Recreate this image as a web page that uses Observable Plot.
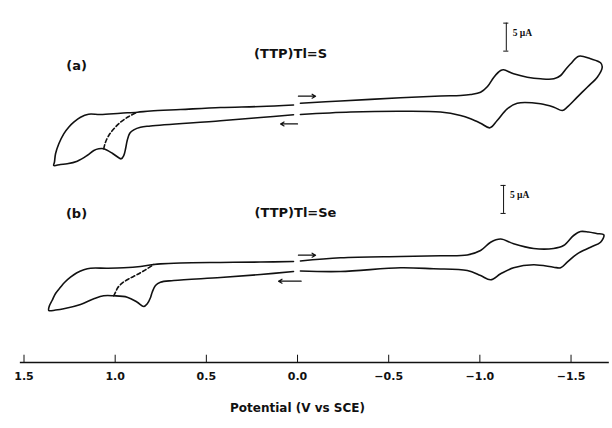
<!DOCTYPE html>
<html><head><meta charset="utf-8">
<script src="https://cdn.jsdelivr.net/npm/d3@7"></script>
<script src="https://cdn.jsdelivr.net/npm/@observablehq/plot@0.6"></script>
<style>body{margin:0;background:#fff}svg{display:block}</style>
</head><body><div id="chart"></div>
<script>
// Potential (V vs SCE) and current (µA, relative to each trace's own baseline)
const aLeftV = [0.022,0.203,0.422,0.642,0.806,0.878,0.971,1.081,1.146,1.190,1.227,1.255,1.282,1.309,1.327,1.333,1.337,1.300,1.263,1.208,1.154,1.117,1.090,1.063,1.016,0.980,0.967,0.953,0.943,0.934,0.920,0.898,0.861,0.806,0.422,0.203,0.022];
const aLeftI = [0.98,0.71,0.54,0.18,-0.09,-0.30,-0.48,-0.71,-0.66,-1.20,-2.09,-2.98,-4.16,-5.95,-7.73,-9.23,-9.82,-9.64,-9.52,-9.05,-8.04,-7.14,-6.84,-6.84,-7.63,-8.45,-8.63,-8.04,-6.84,-5.36,-4.05,-3.45,-2.98,-2.77,-1.84,-1.25,-0.77];
const aDashV = [1.063,1.053,1.035,1.007,0.971,0.925,0.879];
const aDashI = [-6.84,-5.66,-4.46,-3.27,-2.09,-1.07,-0.30];
const aRightV = [-0.016,-0.236,-0.565,-0.784,-0.894,-0.949,-1.004,-1.042,-1.077,-1.114,-1.130,-1.185,-1.260,-1.333,-1.406,-1.443,-1.470,-1.498,-1.543,-1.607,-1.662,-1.671,-1.644,-1.589,-1.534,-1.479,-1.452,-1.406,-1.333,-1.205,-1.150,-1.095,-1.055,-1.004,-0.949,-0.894,-0.784,-0.565,-0.291,-0.016];
const aRightI = [1.30,1.70,2.27,2.59,2.68,2.86,3.27,4.29,5.95,7.14,7.27,6.55,5.95,5.66,5.66,6.25,7.32,8.34,9.70,9.23,8.52,7.73,5.95,4.16,2.38,0.59,0.00,0.59,1.20,1.30,0.30,-1.79,-3.09,-2.27,-1.48,-0.89,-0.27,-0.13,-0.27,-0.71];

const bLeftV = [0.022,0.203,0.422,0.642,0.752,0.788,0.861,0.953,1.044,1.135,1.172,1.212,1.245,1.278,1.300,1.327,1.346,1.360,1.364,1.327,1.282,1.190,1.117,1.063,1.008,0.934,0.879,0.843,0.824,0.806,0.797,0.779,0.752,0.679,0.422,0.203,0.022];
const bLeftI = [0.71,0.62,0.55,0.45,0.30,0.18,-0.18,-0.41,-0.48,-0.48,-0.77,-1.34,-2.09,-3.04,-3.88,-5.00,-6.25,-7.14,-8.04,-7.95,-7.73,-6.96,-5.95,-5.41,-5.41,-5.66,-6.55,-7.32,-6.84,-5.71,-4.77,-3.57,-2.98,-2.68,-2.14,-1.61,-1.07];
const bDashV = [1.008,0.998,0.986,0.962,0.925,0.879,0.834,0.788];
const bDashI = [-5.41,-4.77,-3.98,-3.16,-2.38,-1.61,-0.77,0.18];
const bRightV = [-0.016,-0.236,-0.565,-0.784,-0.931,-1.004,-1.059,-1.114,-1.185,-1.295,-1.404,-1.459,-1.514,-1.552,-1.596,-1.640,-1.680,-1.662,-1.607,-1.534,-1.479,-1.443,-1.404,-1.295,-1.185,-1.114,-1.059,-1.004,-0.931,-0.746,-0.565,-0.236,-0.016];
const bRightI = [0.80,1.38,1.61,1.73,1.88,2.68,4.16,4.73,3.88,3.04,3.04,3.57,5.36,6.07,5.98,5.71,5.45,4.16,3.27,2.09,0.59,-0.41,-0.30,0.13,-0.41,-1.48,-2.55,-1.79,-0.89,-0.59,-0.41,-1.07,-0.98];

const tickValues = [1.5, 1.0, 0.5, 0.0, -0.5, -1.0, -1.5];
const panelLabels = ["(a)", "(b)"];
const compoundLabels = ["(TTP)Tl=S", "(TTP)Tl=Se"];
const scaleBarUA = 5;

// layout (vertical stacking of the two voltammograms, in µA units of the shared y scale)
const offA = 45.0, offB = 17.32;
const pts = (V, I, off) => V.map((v, k) => ({x: v, y: I[k] + off}));

const font = "'DejaVu Sans', sans-serif";
const ink = "#111";
const lineOpt = {x: "x", y: "y", stroke: ink, strokeWidth: 1.6, curve: "catmull-rom"};
const dashOpt = {...lineOpt, strokeDasharray: "4,2.5", strokeWidth: 1.6};

const arrows = [
  {x1: -0.005, x2: -0.099, y1: offA + 2.55, y2: offA + 2.55},
  {x1: 0.0, x2: 0.093, y1: offA - 2.4, y2: offA - 2.4},
  {x1: -0.005, x2: -0.099, y1: offB + 1.85, y2: offB + 1.85},
  {x1: -0.02, x2: 0.104, y1: offB - 2.8, y2: offB - 2.8}
];
const bars = [
  {x: -1.145, y1: offA + 10.6, y2: offA + 10.6 + scaleBarUA},
  {x: -1.13, y1: offB + 9.3, y2: offB + 9.3 + scaleBarUA}
];

const chart = Plot.plot({
  width: 612, height: 428,
  marginLeft: 23.5, marginRight: 5, marginTop: 0, marginBottom: 66,
  style: {fontFamily: font, background: "#fff", color: ink},
  x: {domain: [1.5, -1.7]},
  y: {domain: [0, 362 / 5.6], axis: null},
  marks: [
    Plot.ruleY([0], {x1: 1.52, x2: -1.71, stroke: ink, strokeWidth: 1.3}),
    Plot.ruleX(tickValues, {x: d => d, y1: 0, y2: 1.3, stroke: ink, strokeWidth: 1}),
    Plot.axisX({ticks: tickValues, tickSize: 0, tickPadding: 10, tickFormat: d3.format(".1f"),
      fontSize: 11, fontWeight: "bold", label: null}),
    Plot.text(["Potential (V vs SCE)"], {x: () => 0, y: () => -8.2, text: d => d, fontSize: 12, fontWeight: "bold"}),
    Plot.line(pts(aLeftV, aLeftI, offA), lineOpt),
    Plot.line(pts(aRightV, aRightI, offA), lineOpt),
    Plot.line(pts(aDashV, aDashI, offA), dashOpt),
    Plot.line(pts(bLeftV, bLeftI, offB), lineOpt),
    Plot.line(pts(bRightV, bRightI, offB), lineOpt),
    Plot.line(pts(bDashV, bDashI, offB), dashOpt),
    Plot.arrow(arrows, {x1: "x1", x2: "x2", y1: "y1", y2: "y2", stroke: ink, strokeWidth: 1.2, headLength: 5, bend: 0}),
    Plot.ruleX(bars, {x: "x", y1: "y1", y2: "y2", stroke: ink, strokeWidth: 1}),
    Plot.ruleY(bars.flatMap(b => [{x: b.x, y: b.y1}, {x: b.x, y: b.y2}]), {x1: d => d.x + 0.014, x2: d => d.x - 0.014, y: "y", stroke: ink, strokeWidth: 1}),
    Plot.text(bars.map(b => b.x), {x: d => d - 0.035, y: (d, i) => bars[i].y1 + 3.3, text: () => scaleBarUA + " \u00b5A",
      textAnchor: "start", fontFamily: "'Liberation Serif', serif", fontSize: 9.5, fontWeight: "bold"}),
    Plot.text(panelLabels, {x: () => 1.212, y: (d, i) => [offA + 8.04, offB + 9.28][i], text: d => d, fontSize: 13, fontWeight: "bold"}),
    Plot.text(compoundLabels, {x: (d, i) => [0.038, 0.011][i], y: (d, i) => [offA + 10.18, offB + 9.47][i], text: d => d, fontSize: 13, fontWeight: "bold"})
  ]
});
document.getElementById("chart").append(chart);
</script>
</body></html>
